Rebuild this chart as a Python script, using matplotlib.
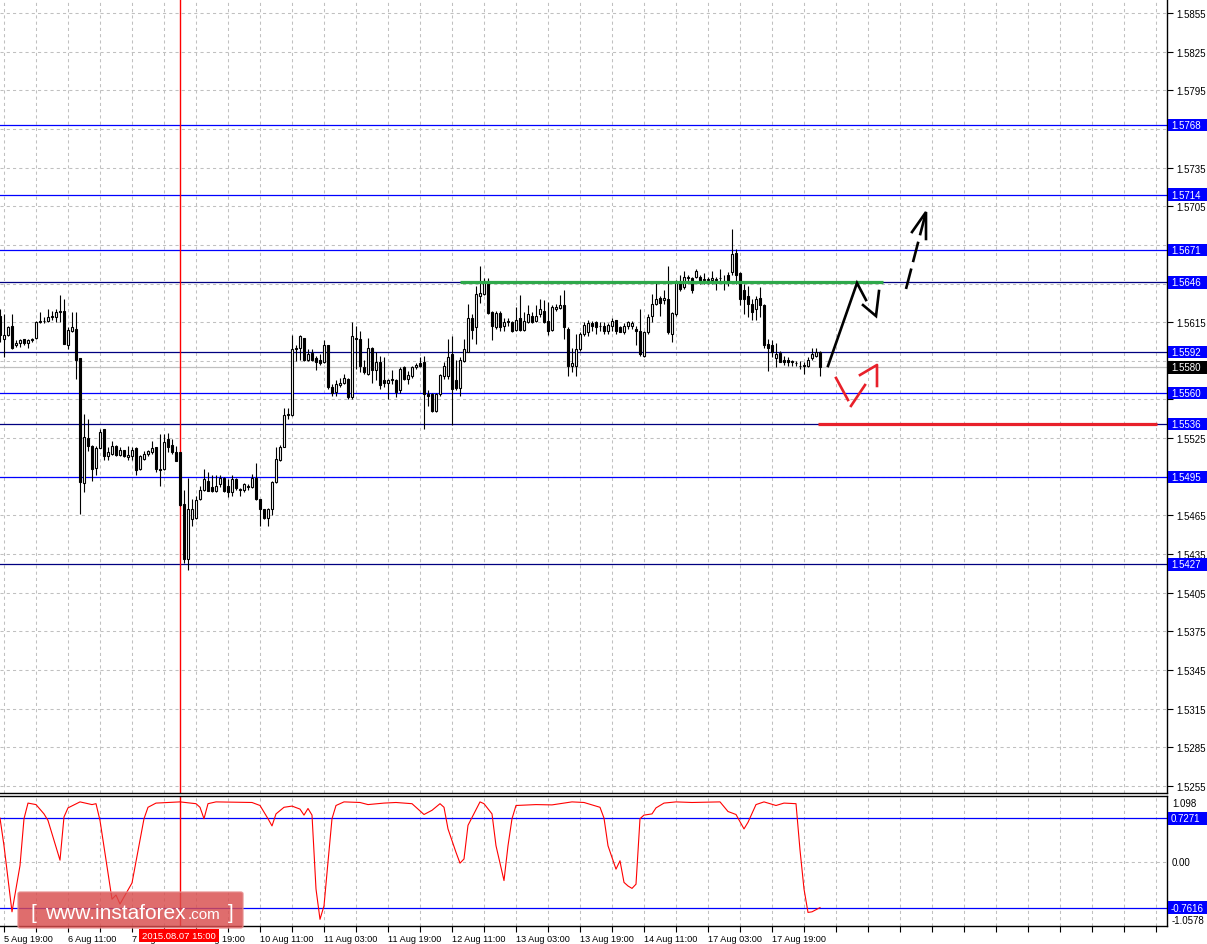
import matplotlib
matplotlib.use('Agg')
import matplotlib.pyplot as plt
import numpy as np
from matplotlib.patches import Rectangle, FancyBboxPatch
from matplotlib.transforms import blended_transform_factory

# ---------------- data ----------------
bars = list(range(-1, 205))  # hourly bar index, 0 = 5 Aug 19:00

opens = [1.5620,1.5602,1.5605,1.5612,1.5597,1.5599,1.5602,1.5599,1.5601,1.5603,1.5615,1.5616,1.5616,1.5619,1.5619,1.5623,1.5624,1.5597,1.5608,1.5610,
1.5587,1.5490,1.5525,1.5519,1.5502,1.5517,1.5532,1.5511,1.5513,1.5519,
1.5512,1.5516,1.5510,1.5511,1.5517,1.5501,1.5509,1.5513,1.5514,1.5518,
1.5501,1.5501,1.5524,1.5520,1.5514,1.5514,1.5474,1.5431,1.5462,1.5463,
1.5478,1.5485,1.5492,1.5487,1.5484,1.5489,1.5494,1.5488,1.5483,1.5493,
1.5485,1.5485,1.5487,1.5487,1.5494,1.5478,1.5470,1.5463,1.5470,1.5491,
1.5508,1.5518,1.5543,1.5543,1.5594,1.5595,1.5603,1.5586,1.5591,1.5587,
1.5586,1.5584,1.5597,1.5565,1.5561,1.5566,1.5568,1.5571,1.5557,1.5603,
1.5602,1.5580,1.5575,1.5595,1.5578,1.5584,1.5570,1.5568,1.5570,1.5570,
1.5562,1.5580,1.5571,1.5573,1.5580,1.5583,1.5584,1.5559,1.5559,1.5546,
1.5559,1.5573,1.5573,1.5590,1.5570,1.5564,1.5585,1.5592,1.5618,1.5611,
1.5635,1.5637,1.5647,1.5623,1.5611,1.5622,1.5612,1.5615,1.5615,1.5609,
1.5618,1.5609,1.5615,1.5620,1.5616,1.5621,1.5624,1.5616,1.5609,1.5625,
1.5626,1.5628,1.5610,1.5581,1.5581,1.5594,1.5606,1.5607,1.5614,1.5615,
1.5612,1.5612,1.5608,1.5612,1.5617,1.5611,1.5607,1.5612,1.5612,1.5610,
1.5608,1.5589,1.5607,1.5620,1.5629,1.5634,1.5632,1.5633,1.5606,1.5621,
1.5646,1.5642,1.5649,1.5649,1.5650,1.5650,1.5648,1.5648,1.5648,1.5648,
1.5649,1.5647,1.5652,1.5654,1.5669,1.5653,1.5640,1.5635,1.5629,1.5625,
1.5634,1.5628,1.5598,1.5597,1.5587,1.5591,1.5586,1.5586,1.5585,1.5583,
1.5581,1.5582,1.5581,1.5587,1.5589,1.5592]

highs = [1.5625,1.5621,1.5612,1.5621,1.5601,1.5602,1.5602,1.5602,1.5603,1.5616,1.5623,1.5619,1.5625,1.5624,1.5625,1.5636,1.5633,1.5611,1.5623,1.5623,
1.5587,1.5544,1.5540,1.5520,1.5519,1.5532,1.5532,1.5518,1.5523,1.5520,
1.5518,1.5516,1.5519,1.5518,1.5518,1.5512,1.5515,1.5516,1.5523,1.5518,
1.5528,1.5528,1.5529,1.5524,1.5519,1.5514,1.5485,1.5494,1.5478,1.5480,
1.5488,1.5501,1.5499,1.5496,1.5496,1.5496,1.5495,1.5493,1.5496,1.5494,
1.5486,1.5490,1.5489,1.5497,1.5506,1.5478,1.5470,1.5471,1.5492,1.5518,
1.5520,1.5548,1.5548,1.5605,1.5597,1.5605,1.5603,1.5594,1.5594,1.5589,
1.5590,1.5601,1.5597,1.5567,1.5570,1.5572,1.5575,1.5572,1.5615,1.5612,
1.5608,1.5586,1.5603,1.5596,1.5592,1.5589,1.5588,1.5571,1.5578,1.5571,
1.5580,1.5581,1.5577,1.5581,1.5583,1.5588,1.5589,1.5562,1.5560,1.5560,
1.5575,1.5584,1.5602,1.5604,1.5586,1.5588,1.5602,1.5629,1.5621,1.5643,
1.5659,1.5649,1.5649,1.5624,1.5624,1.5624,1.5618,1.5618,1.5616,1.5627,
1.5636,1.5623,1.5628,1.5623,1.5628,1.5633,1.5632,1.5631,1.5628,1.5629,
1.5636,1.5640,1.5611,1.5595,1.5606,1.5607,1.5615,1.5617,1.5616,1.5616,
1.5615,1.5615,1.5614,1.5618,1.5617,1.5612,1.5614,1.5616,1.5616,1.5612,
1.5625,1.5608,1.5621,1.5637,1.5646,1.5635,1.5640,1.5659,1.5623,1.5648,
1.5652,1.5655,1.5652,1.5650,1.5656,1.5652,1.5653,1.5650,1.5655,1.5650,
1.5656,1.5652,1.5654,1.5687,1.5672,1.5654,1.5645,1.5643,1.5633,1.5635,
1.5642,1.5629,1.5602,1.5601,1.5599,1.5593,1.5589,1.5588,1.5586,1.5585,
1.5585,1.5584,1.5588,1.5595,1.5595,1.5593]

lows = [1.5600,1.5588,1.5604,1.5594,1.5596,1.5596,1.5597,1.5595,1.5600,1.5602,1.5614,1.5614,1.5615,1.5617,1.5615,1.5615,1.5598,1.5594,1.5607,1.5571,
1.5466,1.5483,1.5515,1.5492,1.5496,1.5517,1.5508,1.5508,1.5512,1.5511,
1.5511,1.5510,1.5508,1.5508,1.5496,1.5500,1.5508,1.5511,1.5513,1.5499,
1.5488,1.5500,1.5514,1.5513,1.5507,1.5472,1.5428,1.5423,1.5457,1.5462,
1.5477,1.5484,1.5484,1.5483,1.5483,1.5487,1.5483,1.5479,1.5480,1.5485,
1.5480,1.5483,1.5485,1.5486,1.5477,1.5457,1.5462,1.5457,1.5465,1.5490,
1.5507,1.5518,1.5540,1.5542,1.5585,1.5586,1.5585,1.5585,1.5585,1.5578,
1.5582,1.5583,1.5563,1.5558,1.5558,1.5565,1.5567,1.5555,1.5555,1.5579,
1.5576,1.5575,1.5574,1.5568,1.5570,1.5563,1.5565,1.5555,1.5567,1.5557,
1.5560,1.5570,1.5567,1.5572,1.5579,1.5580,1.5532,1.5550,1.5545,1.5545,
1.5558,1.5571,1.5571,1.5535,1.5562,1.5558,1.5584,1.5592,1.5602,1.5598,
1.5630,1.5636,1.5621,1.5601,1.5610,1.5608,1.5608,1.5612,1.5607,1.5608,
1.5608,1.5608,1.5614,1.5614,1.5615,1.5619,1.5614,1.5605,1.5608,1.5624,
1.5625,1.5602,1.5573,1.5576,1.5573,1.5593,1.5604,1.5604,1.5608,1.5606,
1.5608,1.5606,1.5606,1.5608,1.5606,1.5607,1.5606,1.5610,1.5610,1.5597,
1.5589,1.5588,1.5606,1.5615,1.5628,1.5620,1.5629,1.5606,1.5600,1.5620,
1.5639,1.5641,1.5647,1.5638,1.5649,1.5645,1.5645,1.5645,1.5645,1.5640,
1.5647,1.5640,1.5643,1.5652,1.5645,1.5628,1.5621,1.5619,1.5617,1.5617,
1.5619,1.5595,1.5577,1.5588,1.5580,1.5584,1.5582,1.5581,1.5581,1.5581,
1.5579,1.5575,1.5580,1.5586,1.5588,1.5573]

closes = [1.5605,1.5605,1.5611,1.5595,1.5599,1.5601,1.5599,1.5601,1.5602,1.5615,1.5616,1.5616,1.5619,1.5620,1.5623,1.5624,1.5598,1.5609,1.5611,1.5586,
1.5491,1.5526,1.5519,1.5501,1.5517,1.5530,1.5511,1.5514,1.5519,1.5512,
1.5516,1.5511,1.5512,1.5516,1.5500,1.5511,1.5513,1.5515,1.5517,1.5501,
1.5500,1.5522,1.5518,1.5514,1.5507,1.5473,1.5431,1.5470,1.5470,1.5477,
1.5485,1.5493,1.5484,1.5484,1.5488,1.5494,1.5484,1.5483,1.5493,1.5486,
1.5485,1.5489,1.5488,1.5494,1.5478,1.5470,1.5463,1.5470,1.5491,1.5509,
1.5518,1.5543,1.5544,1.5594,1.5595,1.5604,1.5586,1.5590,1.5586,1.5584,
1.5583,1.5597,1.5565,1.5560,1.5567,1.5568,1.5572,1.5557,1.5604,1.5602,
1.5581,1.5576,1.5595,1.5578,1.5584,1.5566,1.5568,1.5570,1.5571,1.5561,
1.5579,1.5571,1.5574,1.5580,1.5582,1.5581,1.5559,1.5558,1.5546,1.5559,
1.5574,1.5581,1.5588,1.5563,1.5564,1.5586,1.5594,1.5618,1.5609,1.5637,
1.5638,1.5647,1.5622,1.5612,1.5622,1.5611,1.5615,1.5616,1.5608,1.5617,
1.5609,1.5616,1.5621,1.5615,1.5620,1.5625,1.5615,1.5608,1.5627,1.5627,
1.5628,1.5611,1.5581,1.5583,1.5594,1.5606,1.5613,1.5614,1.5612,1.5611,
1.5612,1.5608,1.5613,1.5616,1.5608,1.5607,1.5612,1.5615,1.5614,1.5608,
1.5590,1.5607,1.5619,1.5629,1.5633,1.5630,1.5634,1.5607,1.5622,1.5646,
1.5641,1.5650,1.5650,1.5640,1.5655,1.5647,1.5648,1.5648,1.5649,1.5648,
1.5649,1.5647,1.5646,1.5668,1.5652,1.5633,1.5633,1.5629,1.5623,1.5633,
1.5628,1.5597,1.5595,1.5592,1.5590,1.5584,1.5584,1.5584,1.5584,1.5583,
1.5581,1.5581,1.5586,1.5590,1.5592,1.5580]

# oscillator (bar index, value)
ind_x = [-1,0,2,4,5,6,8,10,11,14,15,16,19,22,23,24,27,28,29,32,35,36,38,44,48,49,50,51,53,62,
         64,66,67,68,70,72,74,75,76,77,78,79,80,81,82,83,85,89,91,95,98,102,103,105,107,109,110,111,113,114,
         115,116,119,120,122,123,125,126,127,128,133,137,142,145,149,150,151,153,154,155,156,157,158,159,160,
         162,163,165,168,172,179,181,183,185,186,188,190,193,195,198,199,200,201,202,204]
ind_v = [0.73,0.27,-0.83,-0.06,0.72,0.98,0.955,0.80,0.69,0.03,0.75,0.90,1.0,0.955,0.97,0.69,-0.62,-0.55,-0.70,-0.35,
         0.72,0.91,0.98,1.0,0.97,0.91,0.72,0.97,1.0,0.99,0.94,0.72,0.60,0.80,0.91,0.93,0.88,0.78,0.89,0.78,
         -0.45,-0.955,-0.73,0.0,0.72,0.94,1.0,0.99,0.955,0.98,0.99,0.97,0.91,0.79,0.86,0.97,0.91,0.55,0.16,-0.02,
         0.05,0.61,1.0,0.97,0.80,0.27,-0.31,0.27,0.72,0.94,0.955,0.95,1.0,0.99,0.91,0.73,0.27,-0.12,0.02,-0.34,
         -0.40,-0.44,-0.37,0.72,0.78,0.80,0.90,0.98,1.0,0.99,1.0,0.84,0.79,0.55,0.66,0.955,1.0,0.94,0.98,0.97,
         0.20,-0.45,-0.84,-0.83,-0.76]

# levels
bright_levels = [1.5768, 1.5714, 1.5671, 1.5560, 1.5495]
dark_levels = [1.5646, 1.5592, 1.5536, 1.5427]
bid_price = 1.5580
ind_levels = [0.7271, -0.7616]
ind_max, ind_min = 1.098, -1.0578

tick_bars = [0, 16, 32, 48, 64, 80, 96, 112, 128, 144, 160, 176, 192]
tick_texts = ['5 Aug 19:00', '6 Aug 11:00', '7 Aug 03:00', '7 Aug 19:00', '10 Aug 11:00',
              '11 Aug 03:00', '11 Aug 19:00', '12 Aug 11:00', '13 Aug 03:00', '13 Aug 19:00',
              '14 Aug 11:00', '17 Aug 03:00', '17 Aug 19:00']
cursor_bar = 44
cursor_text = '2015.08.07 15:00'

# drawn analysis
green_seg = ([114, 219.75], [1.5646, 1.5646])
red_seg = ([203.5, 288.25], [1.5536, 1.5536])
black_path1 = ([206.0, 213.25, 215.5], [1.5581, 1.56454, 1.56322])
black_path2 = ([214.75, 218.0, 218.75], [1.56283, 1.56198, 1.56392])
black_dash = ([225.5, 230.5], [1.56408, 1.57005])
black_head = ([227.0, 230.5, 230.5], [1.5685, 1.57005, 1.56796])
red_path1 = ([208.0, 211.0], [1.55717, 1.55546])
red_path2 = ([211.75, 215.25], [1.55500, 1.55662])
red_path3 = ([214.0, 218.25, 218.25], [1.55740, 1.55818, 1.55655])

# ---------------- figure ----------------
W, H = 1207, 945
plt.rcParams['font.family'] = ['Liberation Sans', 'DejaVu Sans']
fig = plt.figure(figsize=(W / 100, H / 100), dpi=100)
fig.patch.set_facecolor('white')

AX_R = 1167 / W
ax = fig.add_axes([0, 1 - 794 / H, AX_R, 794 / H])
axi = fig.add_axes([0, 1 - 926.5 / H, AX_R, (926.5 - 797) / H])

X0, X1 = -1, 290.75
GRID = dict(color='#C0C0C0', lw=0.75, ls=(0, (3, 3)))
BLUE = '#0000FF'
DARK = '#000080'
FS = 7

# ---- main panel ----
ax.set_xlim(X0, X1)
ax.set_ylim(1.52495, 1.58659)
for sp in ['left', 'top']:
    ax.spines[sp].set_visible(False)
for sp in ['right', 'bottom']:
    ax.spines[sp].set_color('black')
    ax.spines[sp].set_linewidth(1.0)

box_levels = bright_levels + dark_levels + [bid_price]
yt = np.round(np.arange(1.5255, 1.58551, 0.003), 4)
ax.set_yticks(yt)
# labels hidden under the level boxes are left blank
ax.set_yticklabels(['' if min(abs(v - lv) for lv in box_levels) < 0.00075 else '%.4f' % v for v in yt])
ax.yaxis.tick_right()
ax.tick_params(axis='y', direction='out', length=4, width=0.8, labelsize=FS, pad=3, colors='black')
ax.set_xticks(np.arange(0, 290, 8))
ax.tick_params(axis='x', length=0, labelbottom=False)
ax.grid(True, **GRID)
ax.set_axisbelow(True)

for lv in bright_levels:
    ax.axhline(lv, color=BLUE, lw=0.9, zorder=2)
for lv in dark_levels:
    ax.axhline(lv, color=DARK, lw=0.9, zorder=2)
ax.axhline(bid_price, color='#C0C0C0', lw=0.9, zorder=2)
ax.axvline(cursor_bar, color='red', lw=1.0, zorder=2.5)

# candles
b = np.array(bars, dtype=float)
O = np.array(opens); Hh = np.array(highs); L = np.array(lows); C = np.array(closes)
up = C >= O
ax.vlines(b, L, Hh, color='black', lw=0.8, zorder=3)
bot = np.minimum(O, C)
hgt = np.maximum(np.abs(C - O), 0.00002)
ax.bar(b[up], hgt[up], bottom=bot[up], width=0.62, facecolor='white', edgecolor='black', lw=0.8, zorder=4)
ax.bar(b[~up], hgt[~up], bottom=bot[~up], width=0.62, facecolor='black', edgecolor='black', lw=0.8, zorder=4)

# drawings
ax.plot(*green_seg, color='#2EA84A', lw=2.3, solid_capstyle='butt', zorder=5)
ax.plot(*red_seg, color='#E8202A', lw=2.3, solid_capstyle='butt', zorder=5)
for p in (black_path1, black_path2, black_head):
    ax.plot(*p, color='black', lw=1.9, zorder=6, solid_joinstyle='miter')
ax.plot(*black_dash, color='black', lw=1.9, ls=(0, (8, 2.5)), zorder=6)
for p in (red_path1, red_path2, red_path3):
    ax.plot(*p, color='#E8202A', lw=1.9, zorder=6)

# right side labels
bt = blended_transform_factory(fig.transFigure, ax.transData)
box_h = 12.5 / 12883.0
def price_box(v, fc, txt):
    ax.add_patch(Rectangle((1168 / W, v - box_h / 2), 39 / W, box_h, transform=bt,
                           facecolor=fc, edgecolor='none', clip_on=False, zorder=10))
    ax.text(1171 / W, v, txt, transform=bt, ha='left', va='center', fontsize=FS,
            color='white', clip_on=False, zorder=11)
for lv in bright_levels + dark_levels:
    price_box(lv, BLUE, '%.4f' % lv)
price_box(bid_price, 'black', '%.4f' % bid_price)

# ---- indicator panel ----
axi.set_xlim(X0, X1)
axi.set_ylim(ind_min, ind_max)
axi.spines['left'].set_visible(False)
for sp in ['right', 'bottom', 'top']:
    axi.spines[sp].set_color('black')
    axi.spines[sp].set_linewidth(1.0)
axi.set_yticks([])
xt = list(np.arange(0, 290, 8))
axi.set_xticks(xt)
labels = []
for t in xt:
    labels.append(tick_texts[tick_bars.index(t)] if t in tick_bars else '')
axi.set_xticklabels(labels)
for lab in axi.get_xticklabels():
    lab.set_ha('left')
axi.tick_params(axis='x', direction='out', length=4, width=0.8, labelsize=6.6, pad=2)
axi.grid(True, axis='x', **GRID)
axi.axhline(0, **GRID, zorder=1)
for lv in ind_levels:
    axi.axhline(lv, color=BLUE, lw=0.9, zorder=2)
axi.axvline(cursor_bar, color='red', lw=1.0, zorder=2.5)
axi.plot(ind_x, ind_v, color='red', lw=0.8, zorder=3)

bti = blended_transform_factory(fig.transFigure, axi.transData)
ibox_h = 12.5 / 59.7
for lv in ind_levels:
    axi.add_patch(Rectangle((1168 / W, lv - ibox_h / 2), 39 / W, ibox_h, transform=bti,
                            facecolor=BLUE, edgecolor='none', clip_on=False, zorder=10))
    axi.text(1171 / W, lv, '%.4f' % lv, transform=bti, ha='left', va='center', fontsize=FS,
             color='white', clip_on=False, zorder=11)
axi.text(1172 / W, ind_max - 0.03, '%.3f' % ind_max, transform=bti, ha='left', va='top',
         fontsize=FS, clip_on=False)
axi.text(1172 / W, 0, '0.00', transform=bti, ha='left', va='center', fontsize=FS, clip_on=False)
axi.text(1172 / W, ind_min + 0.01, '%.4f' % ind_min, transform=bti, ha='left', va='bottom',
         fontsize=FS, clip_on=False)

# ---- cursor date label ----
fig.patches.append(Rectangle((139 / W, 1 - 943 / H), 80 / W, 13 / H, transform=fig.transFigure,
                             facecolor='red', edgecolor='none', zorder=20))
fig.text(179 / W, 1 - 936.5 / H, cursor_text, ha='center', va='center', fontsize=6.8,
         color='white', zorder=21)

# ---- watermark ----
fig.patches.append(FancyBboxPatch((18 / W, 1 - 929 / H), 225 / W, 36 / H,
                                  boxstyle='round,pad=0,rounding_size=0.002',
                                  transform=fig.transFigure, facecolor=(0.85, 0.3, 0.3),
                                  edgecolor=(0.9, 0.55, 0.55), lw=1.0, alpha=0.82, zorder=22))
base = 1 - 919 / H
fig.text(30 / W, base, '[', fontsize=15, color='white', ha='left', va='baseline', zorder=23)
fig.text(45 / W, base, 'www.instaforex', fontsize=15, color='white', ha='left', va='baseline', zorder=23)
fig.text(188 / W, base, '.com', fontsize=11, color='white', ha='left', va='baseline', zorder=23)
fig.text(228 / W, base, ']', fontsize=15, color='white', ha='left', va='baseline', zorder=23)

fig.savefig('out.png', dpi=100, facecolor='white')
